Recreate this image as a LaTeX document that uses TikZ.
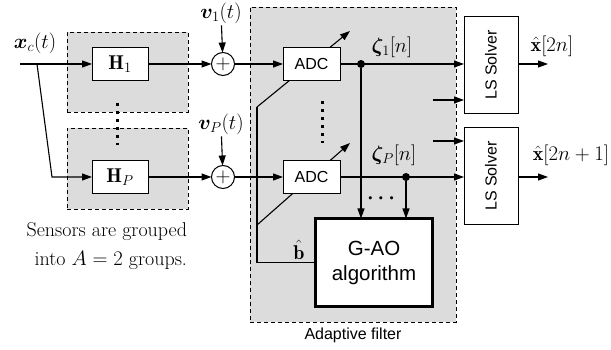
\documentclass[tikz,border=0pt]{standalone}
\usepackage{amsmath,bm}
\usepackage{fontspec}
\setsansfont{Liberation Sans}
\usetikzlibrary{arrows.meta}
\definecolor{fillgray}{RGB}{220,220,220}
\begin{document}
\begin{tikzpicture}[x=1pt,y=-1pt,
  every node/.style={inner sep=0pt, outer sep=0pt, font=\fontsize{20}{24}\selectfont},
  conn/.style={line width=1.1pt},
  arr/.style={conn, -{Triangle[length=10pt,width=7pt]}},
  grp/.style={draw, dash pattern=on 4pt off 3pt, fill=fillgray, line width=0.9pt},
  blk/.style={draw, fill=white, line width=1pt, minimum width=56pt, minimum height=33pt},
  adc/.style={blk, minimum width=57pt, font=\sffamily\fontsize{16}{19}\selectfont},
  lsb/.style={draw, fill=white, line width=1pt, minimum width=54pt, minimum height=97pt, font=\sffamily\fontsize{16}{19}\selectfont},
  adder/.style={circle, draw, fill=white, line width=1pt, minimum size=23pt},
  dot/.style={circle, fill, minimum size=8pt},
  lbl/.style={inner sep=2pt},
  vdots/.style={line width=3pt, dash pattern=on 3pt off 5pt}]
\useasboundingbox (0,0) rectangle (611,350);
% grey group boxes
\node[grp, minimum width=121pt, minimum height=80pt] (g1) at (127.5,72) {};
\node[grp, minimum width=121pt, minimum height=81pt] (g2) at (127.5,168.5) {};
\node[grp, minimum width=206pt, minimum height=315pt] (af) at (353,164.5) {};
\coordinate (dt1) at (117,103);
\coordinate (dt2) at (117,145);
\draw[vdots] (dt1) -- (dt2);
% filters
\node[blk] (H1) at (120,64) {$\mathbf{H}_1$};
\node[blk] (HP) at (120,177) {$\mathbf{H}_P$};
\node[adder] (s1) at (223,64) {$+$};
\node[adder] (sP) at (223,177) {$+$};
\coordinate (in) at (20,64);
\coordinate (br) at (37,64);
\coordinate (brd) at (52,177);
\draw[arr] (in) -- (H1);
\draw[arr] (br) -- (brd) -- (HP);
\draw[arr] (H1) -- (s1);
\draw[arr] (HP) -- (sP);
\node[lbl] (xc) at (35,43) {$\bm{x}_c(t)$};
\node[lbl] (v1) at (221,13) {$\bm{v}_1(t)$};
\node[lbl] (vP) at (221,124) {$\bm{v}_P(t)$};
\draw[arr] (v1) -- (s1);
\draw[arr] (vP) -- (sP);
% adaptive filter
\coordinate (fb1) at (257,107);
\coordinate (t1) at (350,31);
\coordinate (fbP) at (257,225);
\coordinate (tP) at (350,143);
\draw[arr] (fb1) -- (t1);
\draw[arr] (fbP) -- (tP);
\node[adc] (A1) at (311.5,64) {ADC};
\node[adc] (AP) at (311.5,177) {ADC};
\draw[arr] (s1) -- (A1);
\draw[arr] (sP) -- (AP);
\coordinate (at1) at (322,101);
\coordinate (at2) at (322,143);
\draw[vdots] (at1) -- (at2);
\node[draw, fill=white, line width=2.4pt, minimum width=117pt, minimum height=88pt, align=center,
      font=\sffamily\fontsize{20.5}{25}\selectfont] (G) at (374,262.5) {G-AO\\algorithm};
\draw[conn] (G.west) -| (fb1);
\node[lbl] (bh) at (299,250) {$\hat{\mathbf{b}}$};
\node[dot] (d1) at (361,64) {};
\node[dot] (dP) at (406,177) {};
\node[lbl] (z1) at (392,47) {$\bm{\zeta}_1[n]$};
\node[lbl] (zP) at (394,155) {$\bm{\zeta}_P[n]$};
\node (hd) at (383,199) {$\bm{\cdots}$};
\draw[arr] (d1) -- (d1 |- G.north);
\draw[arr] (dP) -- (dP |- G.north);
\node[font=\sffamily\fontsize{16}{19}\selectfont] (aflbl) at (353,335) {Adaptive filter};
% LS solvers
\node[lsb] (L1) at (491,65) {\rotatebox{90}{LS Solver}};
\node[lsb] (L2) at (491,176) {\rotatebox{90}{LS Solver}};
\draw[arr] (A1) -- (A1 -| L1.west);
\draw[arr] (AP) -- (AP -| L2.west);
\coordinate (s1a) at (433,100);
\coordinate (sPa) at (433,141);
\draw[arr] (s1a) -- (s1a -| L1.west);
\draw[arr] (sPa) -- (sPa -| L2.west);
\coordinate (o1) at (548,64);
\coordinate (oP) at (548,177);
\draw[arr] (L1.east |- o1) -- (o1);
\draw[arr] (L2.east |- oP) -- (oP);
\node[lbl] (x1) at (552,46) {$\hat{\mathbf{x}}[2n]$};
\node[lbl] (x2) at (571,155) {$\hat{\mathbf{x}}[2n+1]$};
% caption
\node[align=right, anchor=east, font=\fontsize{20}{29}\selectfont] (cap) at (187,246.5) {Sensors are grouped\\into $A=2$ groups.};
\end{tikzpicture}
\end{document}
